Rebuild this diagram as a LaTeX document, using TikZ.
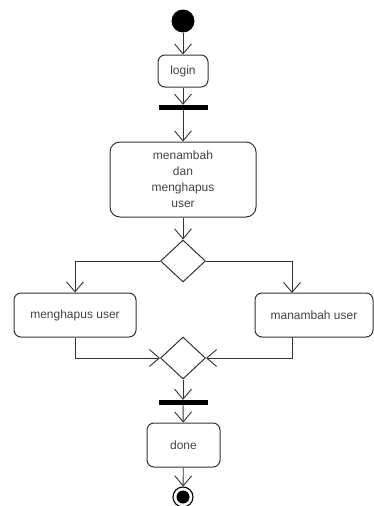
\documentclass[tikz,border=0pt]{standalone}
\usepackage{fontspec}
\setmainfont{Liberation Sans}
\usetikzlibrary{arrows.meta,shapes.geometric}
\definecolor{ln}{HTML}{333333}
\definecolor{tx}{HTML}{444444}
\begin{document}
\begin{tikzpicture}[x=1pt,y=-1pt,
  act/.style={draw=ln,line width=1pt,rounded corners=7pt,inner sep=0pt,align=center,font=\fontsize{12}{16}\selectfont,text=tx},
  dec/.style={draw=ln,line width=1pt,diamond,minimum width=45pt,minimum height=42pt,inner sep=0pt},
  bar/.style={fill=black,minimum width=49pt,minimum height=5pt,inner sep=0pt},
  flow/.style={draw=ln,line width=0.9pt,-{Straight Barb[length=10pt,width=17pt,line width=0.9pt]}}]
\useasboundingbox (0,0) rectangle (374,506);
\node[fill=black,circle,minimum size=23pt,inner sep=0pt] (start) at (183,21) {};
\node[act,minimum width=50pt,minimum height=32pt] (login) at (183,71) {login};
\node[bar] (b1) at (183,107.5) {};
\node[act,minimum width=146pt,minimum height=75pt,rounded corners=10pt] (big) at (183,179.5) {menambah\\dan\\menghapus\\user};
\node[dec] (d1) at (183,261) {};
\node[act,minimum width=122pt,minimum height=44pt] (left) at (75,315) {menghapus user};
\node[act,minimum width=118pt,minimum height=44pt] (right) at (314,315) {manambah user};
\coordinate (rn) at (292,293);
\coordinate (rs) at (292,337);
\node[dec] (d2) at (183,358) {};
\node[bar] (b2) at (183,402.5) {};
\node[act,minimum width=73pt,minimum height=44pt] (done) at (183.5,445) {done};
\node[draw=black,line width=1.1pt,circle,minimum size=20pt,inner sep=0pt] (end) at (183,497) {};
\node[fill=black,circle,minimum size=13pt,inner sep=0pt] (endin) at (183,497) {};
\draw[flow] (start) -- (login);
\draw[flow] (login) -- (b1);
\draw[flow] (b1) -- (big);
\draw[flow] (big) -- (d1);
\draw[flow] (d1.west) -| (left.north);
\draw[flow] (d1.east) -| (rn);
\draw[flow] (left.south) |- (d2.west);
\draw[flow] (rs) |- (d2.east);
\draw[flow] (d2) -- (b2);
\draw[flow] (b2) -- (done);
\draw[flow] (done) -- (end);
\end{tikzpicture}
\end{document}
